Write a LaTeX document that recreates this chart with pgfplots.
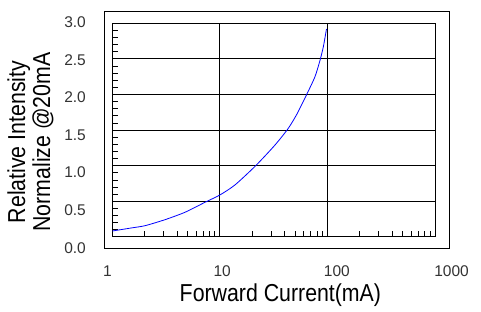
\documentclass[border=0pt]{standalone}
\usepackage{pgfplots}
\pgfplotsset{compat=1.18}
\usepackage{fontspec}
\setmainfont{Liberation Sans}
\newfontfamily\tickfont{Liberation Sans}
\newfontfamily\labfont[FakeStretch=0.87]{Liberation Sans}
\pgfplotstableread{
I v
1 0.084
1.49 0.126
2.02 0.159
3.09 0.243
4.74 0.347
7.27 0.487
10 0.59
13.8 0.73
21.5 1.0
32.5 1.29
43 1.52
51.8 1.72
64.1 2.0
76.6 2.25
85.3 2.48
91.6 2.67
98 2.92
}\curve
\begin{document}
\begin{tikzpicture}
\useasboundingbox (0pt,0pt) rectangle (481pt,312pt);
% outer frame
\begin{axis}[at={(104.3pt,63.3pt)}, anchor=south west, scale only axis,
  width=345pt, height=237.4pt, xmin=0, xmax=1, ymin=0, ymax=1,
  xtick=\empty, ytick=\empty, axis line style={line width=1pt}]
\end{axis}
% labels axis
\begin{axis}[at={(107.5pt,64.3pt)}, anchor=south west, scale only axis,
  width=344.1pt, height=225.3pt, xmode=log, xmin=1, xmax=1000, ymin=0, ymax=3,
  axis line style={draw=none}, tick style={draw=none},
  xtick={1,10,100,1000}, xticklabels={1,10,100,1000},
  ytick={0,0.5,1,1.5,2,2.5,3}, yticklabels={0.0,0.5,1.0,1.5,2.0,2.5,3.0},
  xticklabel style={font=\fontsize{15.5}{16}\tickfont, text=black!80, inner sep=0pt, anchor=center, yshift=-23.1pt},
  yticklabel style={font=\fontsize{15.5}{16}\tickfont, text=black!80, inner sep=0pt, anchor=east, xshift=-21.5pt},
  xlabel={Forward Current(mA)},
  xlabel style={font=\fontsize{24.5}{26}\labfont, inner sep=0pt, at={(axis description cs:0.5025,0)}, anchor=base, yshift=-54.3pt}]
\end{axis}
% inner plot
\begin{axis}[at={(112.3pt,75pt)}, anchor=south west, scale only axis,
  width=322.7pt, height=213.7pt, xmode=log, xmin=1, xmax=1000, ymin=0, ymax=3,
  axis line style={line width=1pt},
  xtick={10,100}, ytick={0.5,1,1.5,2,2.5},
  xticklabels={}, yticklabels={},
  minor xtick={2,3,4,5,6,7,8,9,20,30,40,50,60,70,80,90,200,300,400,500,600,700,800,900},
  minor ytick={0.1,0.2,0.3,0.4,0.6,0.7,0.8,0.9,1.1,1.2,1.3,1.4,1.6,1.7,1.8,1.9,2.1,2.2,2.3,2.4,2.6,2.7,2.8,2.9},
  xtick pos=bottom, ytick pos=left, tick align=inside,
  major tick length=0pt, minor tick length=5.5pt,
  tick style={black, line width=0.9pt},
  grid=major, major grid style={black, line width=1pt}]
\addplot[blue, line width=0.8pt, smooth, tension=0.4] table[x=I, y=v] {\curve};
\end{axis}
\node[rotate=90, anchor=base, font=\fontsize{24.5}{26}\labfont, inner sep=0pt] at (25pt,170pt) {Relative Intensity};
\node[rotate=90, anchor=base, font=\fontsize{24.5}{26}\labfont, inner sep=0pt] at (50pt,170pt) {Normalize @20mA};
\end{tikzpicture}
\end{document}
